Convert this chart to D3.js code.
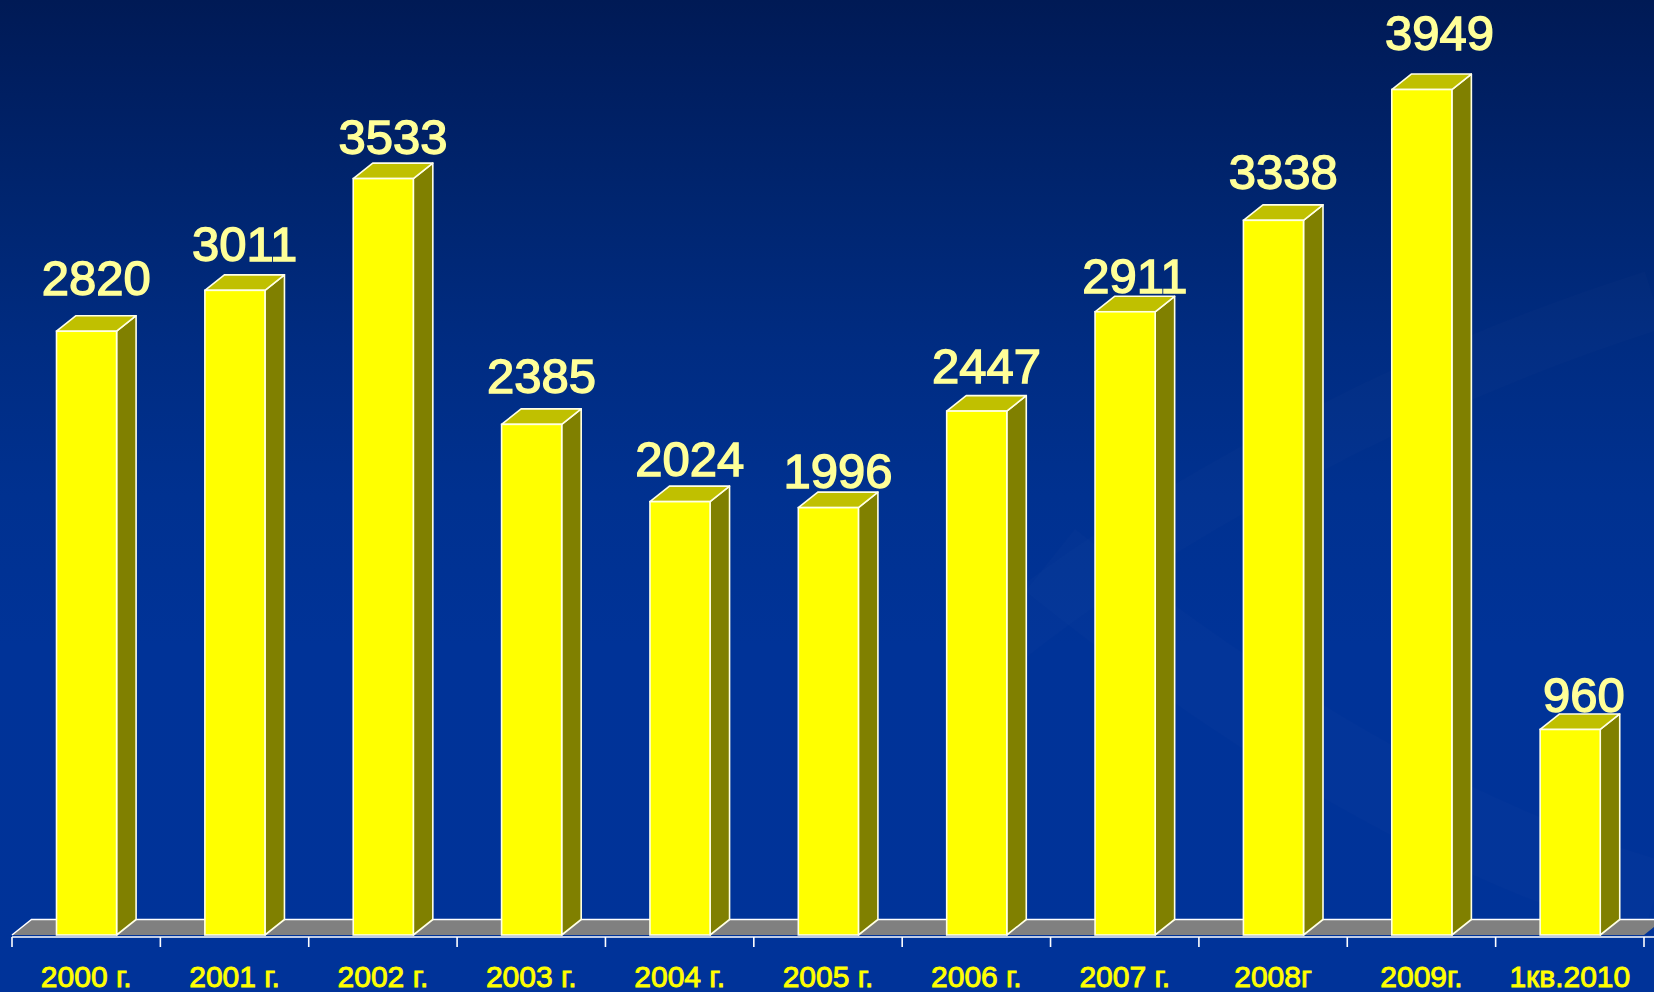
<!DOCTYPE html>
<html>
<head>
<meta charset="utf-8">
<script src="https://cdn.jsdelivr.net/npm/d3@7"></script>
<style>
  html, body { margin: 0; padding: 0; background: #003399; overflow: hidden; }
  svg { display: block; }
</style>
</head>
<body>
<svg id="chart" width="1654" height="992"></svg>
<script>
// Yearly totals, 2000 – first quarter of 2010
const categories = ["2000 г.", "2001 г.", "2002 г.", "2003 г.", "2004 г.", "2005 г.",
                    "2006 г.", "2007 г.", "2008г", "2009г.", "1кв.2010"];
const values = [2820, 3011, 3533, 2385, 2024, 1996, 2447, 2911, 3338, 3949, 960];

// Hand-placed value labels: lift above the bar top and sideways nudge (px)
const labelLift  = [36.5, 29.5, 24.3, 31.4, 26, 19.4, 27.8, 19, 31, 39.5, 17.5];
const labelShift = [0, 0, 0, 0, 0, 0, 0, 0, 0, 8, 4];

const W = 1654, H = 992;
const baseY = 935;          // front edge of the floor
const depthX = 19.5, depthY = -15.5;   // 3-D depth offset

const svg = d3.select("#chart");
const defs = svg.append("defs");

// Background: deep navy at the top fading into royal blue
const bg = defs.append("linearGradient").attr("id", "bg")
  .attr("x1", 0).attr("y1", 0).attr("x2", 0).attr("y2", 1);
[[0, "#001a55"], [0.08, "#001e60"], [0.2, "#00256f"], [0.35, "#002c82"],
 [0.5, "#003190"], [0.65, "#003398"], [1, "#003399"]]
  .forEach(([o, c]) => bg.append("stop").attr("offset", o).attr("stop-color", c));
svg.append("rect").attr("width", W).attr("height", H).attr("fill", "url(#bg)");

// Very faint light swirl on the right side of the backdrop
const swirl = svg.append("g").attr("fill", "none").attr("stroke", "#ffffff");
swirl.append("path")
  .attr("d", "M 1000 640 C 1150 520, 1400 380, 1654 300")
  .attr("stroke-opacity", 0.012).attr("stroke-width", 60);
swirl.append("path")
  .attr("d", "M 1050 560 C 1250 720, 1450 840, 1654 900")
  .attr("stroke-opacity", 0.01).attr("stroke-width", 80);

const x = d3.scaleBand().domain(categories).range([12, 1644]).paddingInner(0).paddingOuter(0);
const y = d3.scaleLinear().domain([0, 4000]).range([baseY, baseY - 4000 * 0.2141]);

const step = x.step();
const barOffset = step * 0.30;
const barWidth = step * 0.405;

// Floor
const [x0, x1] = x.range();
svg.append("path")
  .attr("d", `M${x0},${baseY} L${x1},${baseY} L${x1 + depthX},${baseY + depthY} L${x0 + depthX},${baseY + depthY} Z`)
  .attr("fill", "#808080");
svg.append("path")
  .attr("d", `M${x0},${baseY} L${x0 + depthX},${baseY + depthY} L${x1 + depthX},${baseY + depthY}`)
  .attr("fill", "none").attr("stroke", "#ffffff").attr("stroke-width", 1.5);

// 3-D bars
const outline = "#ffffe6";
const bars = svg.append("g").selectAll("g").data(categories.map((c, i) => ({ c, v: values[i], i })))
  .join("g");

bars.each(function (d) {
  const g = d3.select(this);
  const xl = x(d.c) + barOffset;
  const xr = xl + barWidth;
  const yt = y(d.v);
  const yb = y(0);
  // side face
  g.append("path")
    .attr("d", `M${xr},${yb} L${xr + depthX},${yb + depthY} L${xr + depthX},${yt + depthY} L${xr},${yt} Z`)
    .attr("fill", "#808000").attr("stroke", outline).attr("stroke-width", 1.6).attr("stroke-linejoin", "round");
  // top face
  g.append("path")
    .attr("d", `M${xl},${yt} L${xl + depthX},${yt + depthY} L${xr + depthX},${yt + depthY} L${xr},${yt} Z`)
    .attr("fill", "#c0c000").attr("stroke", outline).attr("stroke-width", 1.6).attr("stroke-linejoin", "round");
  // front face
  g.append("rect")
    .attr("x", xl).attr("y", yt).attr("width", barWidth).attr("height", yb - yt)
    .attr("fill", "#ffff00").attr("stroke", outline).attr("stroke-width", 1.6);
});

// Value labels
svg.append("g").selectAll("text").data(categories.map((c, i) => ({ c, v: values[i], i })))
  .join("text")
  .attr("x", d => x(d.c) + barOffset + barWidth / 2 + depthX / 2 + labelShift[d.i])
  .attr("y", d => y(d.v) - labelLift[d.i])
  .attr("text-anchor", "middle")
  .attr("font-family", "Liberation Sans, Arial, sans-serif")
  .attr("font-size", 49)
  .attr("fill", "#ffff99")
  .attr("stroke", "#ffff99")
  .attr("stroke-width", 1.4)
  .text(d => d.v);

// Category axis: line with ticks at band boundaries, labels centred in bands
const axisY = 937;
const axis = svg.append("g").attr("transform", `translate(0,${axisY})`)
  .call(d3.axisBottom(x).tickSize(0).tickPadding(0));
axis.select(".domain").remove();
axis.selectAll(".tick text")
  .attr("y", 50).attr("dy", null)
  .attr("font-family", "Liberation Sans, Arial, sans-serif")
  .attr("font-size", 30)
  .attr("fill", "#ffff00")
  .attr("stroke", "#ffff00")
  .attr("stroke-width", 0.9);

axis.append("line")
  .attr("x1", x0).attr("x2", x1 + 10).attr("y1", 0).attr("y2", 0)
  .attr("stroke", "#ffffff").attr("stroke-width", 1.6);
const bounds = categories.map(c => x(c)).concat([x1]);
axis.selectAll("line.bound").data(bounds).join("line")
  .attr("class", "bound")
  .attr("x1", d => d).attr("x2", d => d).attr("y1", 0).attr("y2", 10)
  .attr("stroke", "#ffffff").attr("stroke-width", 1.6);
</script>
</body>
</html>
